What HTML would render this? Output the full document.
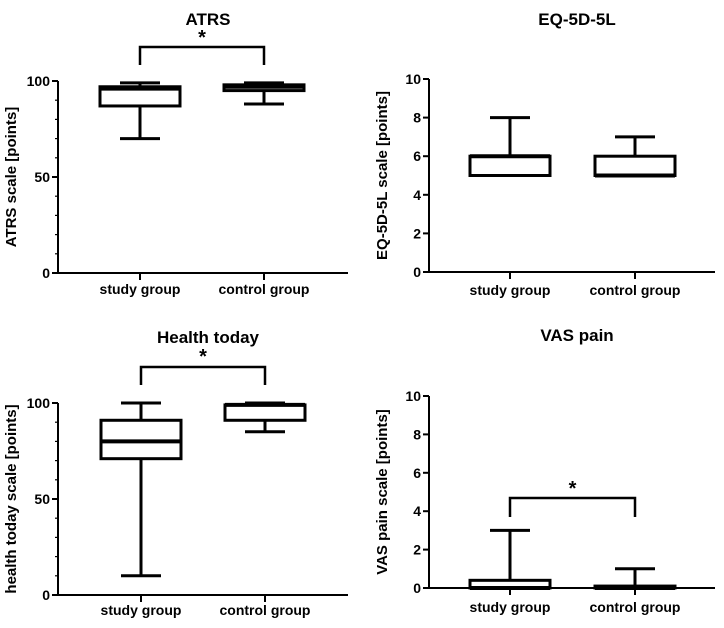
<!DOCTYPE html>
<html><head><meta charset="utf-8"><style>
body{margin:0;background:#fff;}
svg{display:block;font-family:"Liberation Sans",Arial,sans-serif;font-weight:bold;}
</style></head><body>
<svg id="c" width="724" height="628" viewBox="0 0 724 628"></svg>
<script>
const categories=["study group","control group"];
const atrsMin=[70,88], atrsQ1=[87,95], atrsMed=[96,97], atrsQ3=[97,98], atrsMax=[99,99];
const eqMin=[5,5], eqQ1=[5,5], eqMed=[6,5], eqQ3=[6,6], eqMax=[8,7];
const htMin=[10,85], htQ1=[71,91], htMed=[80,99], htQ3=[91,99], htMax=[100,100];
const vasMin=[0,0], vasQ1=[0,0], vasMed=[0,0], vasQ3=[0.4,0.1], vasMax=[3,1];
const ticks100=[0,50,100], ticks10=[0,2,4,6,8,10];
const panels=[
 {id:"atrs",title:"ATRS",ylab:"ATRS scale [points]",ax:58,top:81,bot:273,right:348,max:100,ticks:ticks100,minor:10,cx:[140,264],bw:40,ty:17,
  d:[atrsMin,atrsQ1,atrsMed,atrsQ3,atrsMax],br:{y:47,drop:65,star:35},lab:289},
 {id:"eq5d",title:"EQ-5D-5L",ylab:"EQ-5D-5L scale [points]",ax:429,top:79,bot:272,right:715,max:10,ticks:ticks10,minor:0,cx:[510,635],bw:40,ty:17,
  d:[eqMin,eqQ1,eqMed,eqQ3,eqMax],br:null,lab:290},
 {id:"health",title:"Health today",ylab:"health today scale [points]",ax:58,top:403,bot:595,right:348,max:100,ticks:ticks100,minor:10,cx:[141,265],bw:40,ty:335,
  d:[htMin,htQ1,htMed,htQ3,htMax],br:{y:367,drop:385,star:354},lab:610},
 {id:"vas",title:"VAS pain",ylab:"VAS pain scale [points]",ax:429,top:396,bot:588,right:715,max:10,ticks:ticks10,minor:0,cx:[510,635],bw:40,ty:333,
  d:[vasMin,vasQ1,vasMed,vasQ3,vasMax],br:{y:498,drop:517,star:486},lab:607}
];
const svg=document.getElementById('c');
const NS="http://www.w3.org/2000/svg";
function mk(tag,attrs,parent){const e=document.createElementNS(NS,tag);for(const k in attrs)e.setAttribute(k,attrs[k]);parent.appendChild(e);return e;}
panels.forEach(p=>{
 const g=mk('g',{},svg);
 
 
 const y=v=>p.bot-(v/p.max)*(p.bot-p.top);
 const t=mk('text',{x:(p.ax+p.right)/2+5,y:p.ty+8,'text-anchor':'middle','font-size':17},g);t.textContent=p.title;
 
 
 const ya=mk('line',{x1:p.ax,y1:p.top,x2:p.ax,y2:p.bot,stroke:'#000','stroke-width':2},g);
 
 
 const xa=mk('line',{x1:p.ax-6,y1:p.bot,x2:p.right,y2:p.bot,stroke:'#000','stroke-width':2},g);
 
 
 if(p.minor){for(let v=0;v<=p.max;v+=p.minor){mk('line',{x1:p.ax-3,y1:y(v),x2:p.ax,y2:y(v),stroke:'#000','stroke-width':1.2},g);}}
 p.ticks.forEach(v=>{
  mk('line',{x1:p.ax-6,y1:y(v),x2:p.ax,y2:y(v),stroke:'#000','stroke-width':2},g);
  const tl=mk('text',{x:p.ax-8,y:y(v)+5,'text-anchor':'end','font-size':14},g);tl.textContent=v;
  
  
 });
 const yl=mk('text',{x:0,y:0,'text-anchor':'middle','font-size':15,transform:`translate(${p.ax-42},${(p.top+p.bot)/2}) rotate(-90)`},g);yl.textContent=p.ylab;
 
 
 categories.forEach((c,i)=>{
  const cx=p.cx[i];
  mk('line',{x1:cx,y1:p.bot,x2:cx,y2:p.bot+7,stroke:'#000','stroke-width':2},g);
  const xl=mk('text',{x:cx,y:p.lab+5,'text-anchor':'middle','font-size':14},g);xl.textContent=c;
  
  
  const [mn,q1,md,q3,mx]=p.d.map(a=>a[i]);
  const bg=mk('g',{stroke:'#000','stroke-width':3,fill:'none'},g);
  
  
  mk('line',{x1:cx,y1:y(mx),x2:cx,y2:y(q3)},bg);
  mk('line',{x1:cx,y1:y(mn),x2:cx,y2:y(q1)},bg);
  mk('line',{x1:cx-20,y1:y(mx),x2:cx+20,y2:y(mx)},bg);
  mk('line',{x1:cx-20,y1:y(mn),x2:cx+20,y2:y(mn)},bg);
  mk('rect',{x:cx-p.bw,y:y(q3),width:2*p.bw,height:Math.max(y(q1)-y(q3),0.5),fill:'#fff'},bg);
  mk('line',{x1:cx-p.bw,y1:y(md),x2:cx+p.bw,y2:y(md),'stroke-width':4},bg);
 });
 if(p.br){
  const b=mk('path',{d:`M${p.cx[0]},${p.br.drop}V${p.br.y}H${p.cx[1]}V${p.br.drop}`,stroke:'#000','stroke-width':2.5,fill:'none'},g);
  
  
  const s=mk('text',{x:(p.cx[0]+p.cx[1])/2,y:p.br.star+9,'text-anchor':'middle','font-size':20},g);s.textContent='*';
  
  
 }
});
</script>
</body></html>
